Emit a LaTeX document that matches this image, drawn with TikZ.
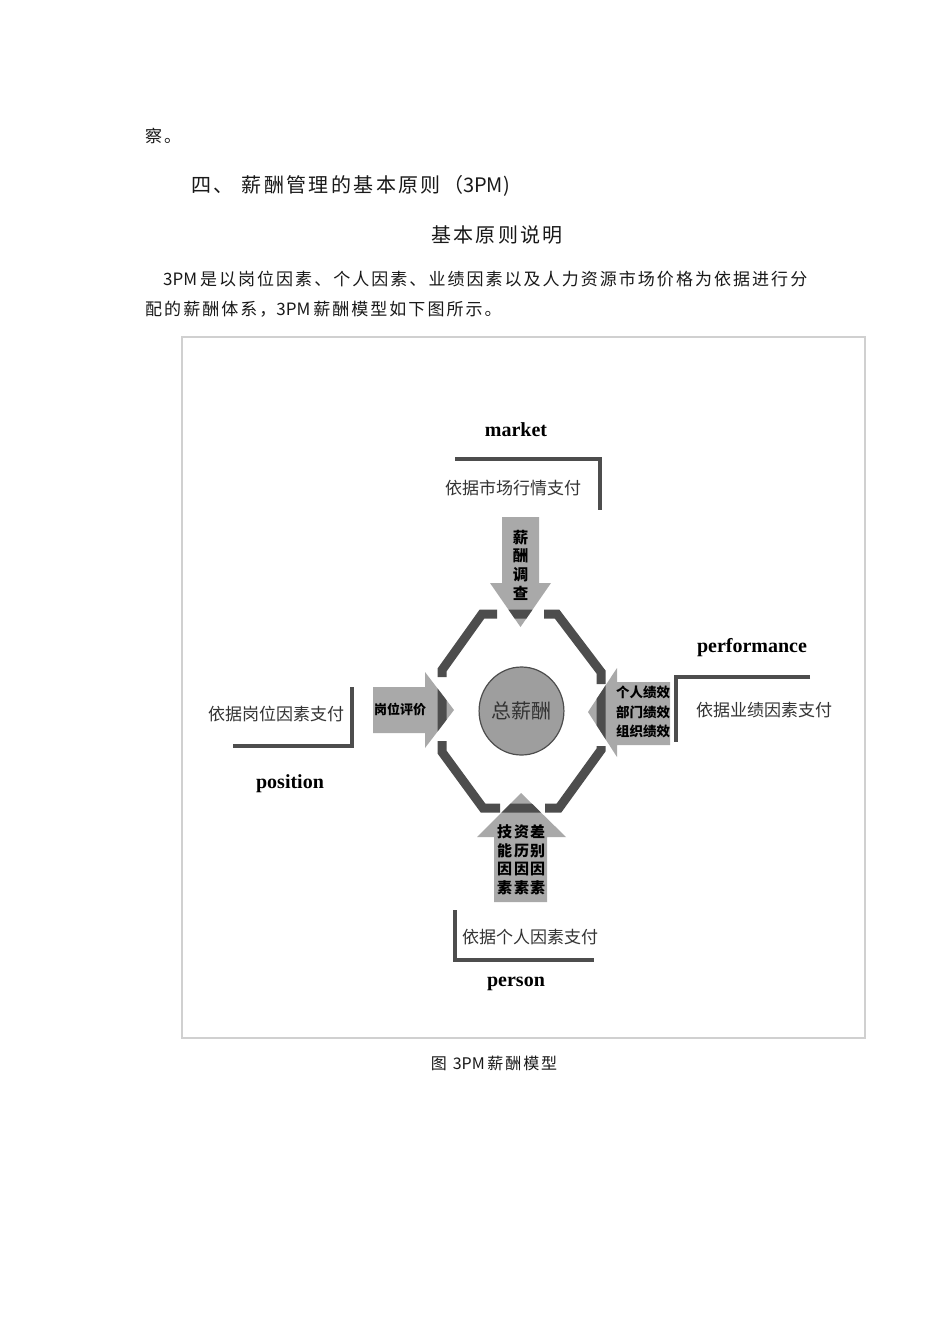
\documentclass[tikz,border=0pt]{standalone}
\usepackage{fontspec}
\usepackage{tikz}
\usetikzlibrary{shapes.geometric}
\usepackage{color}
\newfontfamily\cjk{Noto Sans CJK SC}
\newfontfamily\cjkbody[LetterSpace=12]{Noto Sans CJK SC}
\newfontfamily\en{Liberation Serif}
\definecolor{ringgray}{HTML}{4D4D4D}
\definecolor{arrowgray}{HTML}{A9A9A9}
\definecolor{hubgray}{HTML}{9E9E9E}
\definecolor{framegray}{HTML}{D0D0D0}
\definecolor{tagtext}{HTML}{333333}

% paths used more than once
\newcommand{\ringpath}{(482,614) -- (557,614) -- (601,672) -- (601,750) -- (559,808) -- (483,808) -- (442,752) -- (442,670) -- cycle}
\newcommand{\mktarrow}{(502,517) -- (539,517) -- (539,583) -- (551,583) -- (520.5,627) -- (490,583) -- (502,583) -- cycle}
\newcommand{\posarrow}{(373,687) -- (425,687) -- (425,672) -- (454,710) -- (425,748) -- (425,733) -- (373,733) -- cycle}
\newcommand{\perfarrow}{(670,682) -- (617,682) -- (617,668) -- (588,712) -- (617,757) -- (617,745) -- (670,745) -- cycle}
\newcommand{\persarrow}{(494,902) -- (494,837) -- (477,837) -- (521,793) -- (566,837) -- (547,837) -- (547,902) -- cycle}

\begin{document}
\begin{tikzpicture}[x=1pt,y=-1pt,
  ring/.style={draw=ringgray,line width=9pt,line join=miter},
  piece/.style={ring,line cap=butt},
  hub/.style={ellipse,draw=ringgray,line width=1.2pt,fill=hubgray,minimum width=73pt,
    minimum height=88pt,inner sep=0pt,text=tagtext,font=\cjk\fontsize{20}{20}\selectfont},
  bar/.style={draw=ringgray,line width=3.5pt},
  tag/.style={inner sep=0pt,text=tagtext,font=\cjk\fontsize{17}{17}\selectfont},
  head/.style={inner sep=0pt,font=\en\bfseries\fontsize{20}{20}\selectfont},
  factor/.style={inner sep=0pt,align=center,font=\cjk\bfseries\fontsize{15}{18.5}\selectfont},
  body/.style={inner sep=0pt,anchor=west,text=black!90,font=\cjkbody\fontsize{17}{17}\selectfont}]

  \fill[white] (0,0) rectangle (950,1344);
  \useasboundingbox (0,0) rectangle (950,1344);

  % page text
  \node[body] (prev) at (145,136) {察。};
  \node[body,font=\cjkbody\fontsize{20}{20}\selectfont] (sect) at (191,186) {四、\hspace{8pt}薪酬管理的基本原则（{\cjk 3PM})};
  \node[body,anchor=center,font=\cjkbody\fontsize{20}{20}\selectfont] (title) at (497,235) {基本原则说明};
  \node[body] (par1) at (163,279) {{\cjk 3PM}\,是以岗位因素、个人因素、业绩因素以及人力资源市场价格为依据进行分};
  \node[body] (par2) at (145,309) {配的薪酬体系，{\cjk 3PM}\,薪酬模型如下图所示。};

  % figure
  \draw[framegray,line width=1.2pt] (182,337) rectangle (865,1038);

  \draw[piece] (497,614) -- (482,614) -- (442,670) -- (442,677);
  \draw[piece] (544,614) -- (557,614) -- (601,672) -- (601,684);
  \draw[piece] (601,746) -- (601,750) -- (559,808) -- (545,808);
  \draw[piece] (442,741) -- (442,752) -- (483,808) -- (500,808);

  \foreach \a in {\mktarrow,\posarrow,\perfarrow,\persarrow}{
    \fill[arrowgray] \a;
    \begin{scope}
      \clip \a;
      \draw[ring] \ringpath;
    \end{scope}
  }

  \node[hub] (total) at (521.5,711) {总薪酬};

  \node[factor,font=\cjk\bfseries\fontsize{15.5}{18.7}\selectfont] (survey) at (520.5,565) {薪\\酬\\调\\查};
  \node[factor,font=\cjk\bfseries\fontsize{13}{13}\selectfont] (jobeval) at (400,709) {岗位评价};
  \node[factor,font=\cjk\bfseries\fontsize{13.5}{19.5}\selectfont] (perf) at (643,712) {个人绩效\\部门绩效\\组织绩效};
  \node[factor] (skill) at (504.5,860) {技\\能\\因\\素};
  \node[factor] (senior) at (521.5,860) {资\\历\\因\\素};
  \node[factor] (diff) at (537.5,860) {差\\别\\因\\素};

  % brackets and labels
  \draw[bar] (455,459) -| (600,510);
  \draw[bar] (352,687) |- (233,746);
  \draw[bar] (810,677) -| (676,742);
  \draw[bar] (455,910) |- (594,960);

  \node[head] (market) at (516,430) {market};
  \node[tag] (mkttag) at (513,488) {依据市场行情支付};
  \node[head] (perform) at (752,648) {performance};
  \node[tag] (perftag) at (764,710) {依据业绩因素支付};
  \node[head] (position) at (290,784) {position};
  \node[tag] (postag) at (276,714) {依据岗位因素支付};
  \node[head] (person) at (516,984) {person};
  \node[tag] (perstag) at (530,937) {依据个人因素支付};

  \node[body,anchor=center,font=\cjkbody\fontsize{16}{16}\selectfont] (caption) at (494,1063) {图\hspace{6pt}{\cjk 3PM}\,薪酬模型};
\end{tikzpicture}
\end{document}
